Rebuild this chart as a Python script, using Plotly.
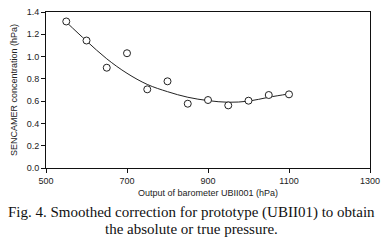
import plotly.graph_objects as go

x_obs = [550, 600, 650, 700, 750, 800, 850, 900, 950, 1000, 1050, 1100]
y_obs = [1.315, 1.144, 0.90, 1.03, 0.706, 0.778, 0.577, 0.61, 0.562, 0.604, 0.655, 0.661]

x_fit = [550, 600, 650, 700, 750, 800, 850, 900, 950, 1000, 1050, 1100]
y_fit = [1.31, 1.14, 0.98, 0.85, 0.75, 0.685, 0.635, 0.605, 0.59, 0.60, 0.635, 0.665]

x_ticks = [500, 700, 900, 1100, 1300]
y_ticks = [0.0, 0.2, 0.4, 0.6, 0.8, 1.0, 1.2, 1.4]

caption_lines = ["Fig. 4. Smoothed correction for prototype (UBII01) to obtain",
                 "the absolute or true pressure."]

fig = go.Figure()
fig.add_trace(go.Scatter(x=x_fit, y=y_fit, mode="lines",
                         line=dict(color="#222", width=1, shape="spline"),
                         showlegend=False, hoverinfo="skip"))
fig.add_trace(go.Scatter(x=x_obs, y=y_obs, mode="markers",
                         marker=dict(symbol="circle", size=7, color="white",
                                     line=dict(color="#222", width=1)),
                         showlegend=False))

axis_common = dict(showline=True, linecolor="#111", linewidth=1, mirror=True,
                   ticks="outside", ticklen=4, tickcolor="#111", showgrid=False,
                   zeroline=False, automargin=False, ticklabeloverflow="allow",
                   tickfont=dict(family="Arial, Liberation Sans", size=9, color="#222"))

fig.update_xaxes(range=[500, 1300], tickvals=x_ticks, **axis_common,
                 title=dict(text="Output of barometer UBII001 (hPa)", standoff=4,
                            font=dict(family="Arial, Liberation Sans", size=9, color="#222")))
fig.update_yaxes(range=[0, 1.4], tickvals=y_ticks, tickformat=".1f", **axis_common,
                 title=dict(text="SENCAMER concentration (hPa)", standoff=7,
                            font=dict(family="Arial, Liberation Sans", size=9, color="#222")))

for line, yp in zip(caption_lines, [-0.285, -0.394]):
    fig.add_annotation(text=line, xref="paper", yref="paper", x=0.449, y=yp,
                       xanchor="center", yanchor="middle", showarrow=False,
                       font=dict(family="Liberation Serif, Times New Roman", size=15, color="#111"))

fig.update_layout(width=383, height=244, margin=dict(l=46, r=13, t=12, b=76),
                  paper_bgcolor="white", plot_bgcolor="white")

fig.write_html("out.html", config={"displayModeBar": False},
               post_script="document.body.style.margin='0';document.body.style.overflow='hidden';")
